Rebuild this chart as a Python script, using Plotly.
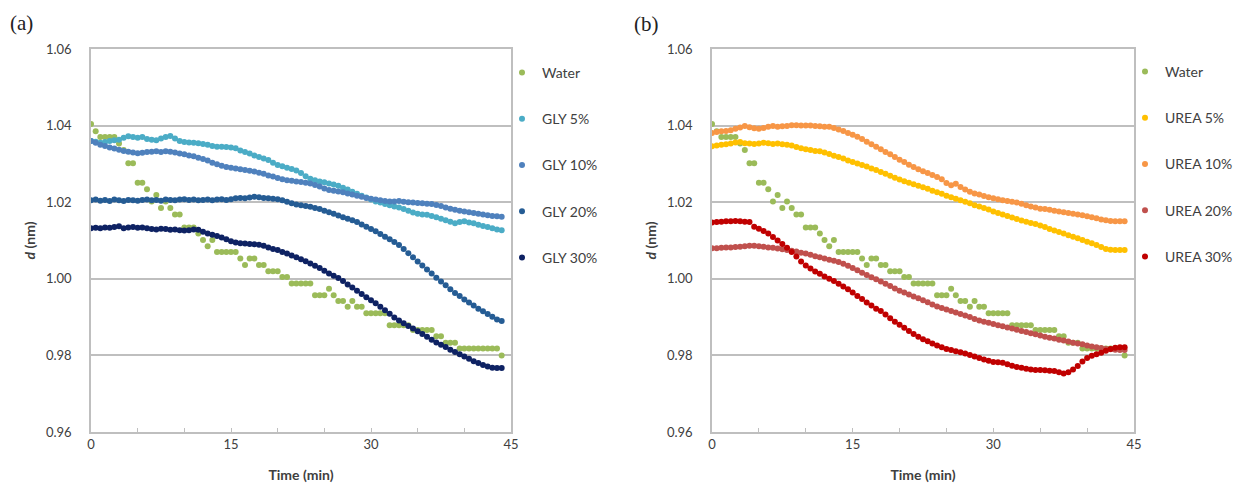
import plotly.graph_objects as go

# ---------------- data ----------------
TIME = [round(0.5 * i, 1) for i in range(89)]  # sampling times 0 .. 44 min

WATER = [1.0404, 1.0385, 1.0370, 1.0370, 1.0370, 1.0370, 1.0353, 1.0336, 1.0302, 1.0302,
         1.0251, 1.0251, 1.0234, 1.0202, 1.0219, 1.0185, 1.0202, 1.0185, 1.0168, 1.0168,
         1.0134, 1.0134, 1.0134, 1.0118, 1.0101, 1.0085, 1.0101, 1.0070, 1.0070, 1.0070,
         1.0070, 1.0070, 1.0053, 1.0036, 1.0053, 1.0053, 1.0036, 1.0036, 1.0020, 1.0020,
         1.0020, 1.0005, 1.0005, 0.9988, 0.9988, 0.9988, 0.9988, 0.9988, 0.9957, 0.9957,
         0.9957, 0.9974, 0.9957, 0.9942, 0.9942, 0.9927, 0.9942, 0.9927, 0.9927, 0.9910,
         0.9910, 0.9910, 0.9910, 0.9910, 0.9879, 0.9879, 0.9879, 0.9879, 0.9879, 0.9866,
         0.9866, 0.9866, 0.9866, 0.9866, 0.9850, 0.9850, 0.9833, 0.9833, 0.9833, 0.9818,
         0.9818, 0.9818, 0.9818, 0.9818, 0.9818, 0.9818, 0.9818, 0.9818, 0.9800]

GLY5 = [1.0360, 1.0358, 1.0355, 1.0357, 1.0360, 1.0362, 1.0363, 1.0368, 1.0372, 1.0370,
        1.0368, 1.0370, 1.0365, 1.0363, 1.0362, 1.0366, 1.0370, 1.0373, 1.0366, 1.0360,
        1.0357, 1.0356, 1.0355, 1.0354, 1.0352, 1.0350, 1.0347, 1.0345, 1.0345, 1.0344,
        1.0343, 1.0341, 1.0335, 1.0331, 1.0327, 1.0322, 1.0318, 1.0314, 1.0310, 1.0303,
        1.0297, 1.0294, 1.0290, 1.0287, 1.0283, 1.0276, 1.0268, 1.0261, 1.0257, 1.0254,
        1.0252, 1.0249, 1.0246, 1.0243, 1.0238, 1.0233, 1.0227, 1.0222, 1.0217, 1.0212,
        1.0207, 1.0202, 1.0199, 1.0195, 1.0192, 1.0189, 1.0186, 1.0182, 1.0178, 1.0173,
        1.0170, 1.0168, 1.0167, 1.0164, 1.0161, 1.0157, 1.0153, 1.0149, 1.0145, 1.0148,
        1.0150, 1.0147, 1.0145, 1.0141, 1.0138, 1.0135, 1.0132, 1.0129, 1.0127]

GLY10 = [1.0360, 1.0355, 1.0350, 1.0347, 1.0343, 1.0340, 1.0337, 1.0334, 1.0332, 1.0330,
         1.0328, 1.0329, 1.0331, 1.0332, 1.0333, 1.0331, 1.0333, 1.0332, 1.0330, 1.0327,
         1.0325, 1.0322, 1.0320, 1.0316, 1.0313, 1.0309, 1.0303, 1.0299, 1.0295, 1.0292,
         1.0290, 1.0288, 1.0286, 1.0284, 1.0282, 1.0280, 1.0277, 1.0274, 1.0270, 1.0267,
         1.0263, 1.0260, 1.0257, 1.0256, 1.0254, 1.0253, 1.0251, 1.0249, 1.0245, 1.0241,
         1.0236, 1.0232, 1.0230, 1.0228, 1.0226, 1.0223, 1.0220, 1.0217, 1.0214, 1.0211,
         1.0209, 1.0207, 1.0205, 1.0203, 1.0202, 1.0202, 1.0203, 1.0201, 1.0200, 1.0199,
         1.0198, 1.0197, 1.0196, 1.0195, 1.0193, 1.0190, 1.0186, 1.0183, 1.0180, 1.0178,
         1.0176, 1.0174, 1.0172, 1.0170, 1.0168, 1.0166, 1.0164, 1.0163, 1.0162]

GLY20 = [1.0205, 1.0207, 1.0204, 1.0206, 1.0203, 1.0207, 1.0205, 1.0203, 1.0206, 1.0205,
         1.0204, 1.0206, 1.0207, 1.0205, 1.0206, 1.0204, 1.0207, 1.0206, 1.0205, 1.0207,
         1.0208, 1.0206, 1.0207, 1.0205, 1.0206, 1.0207, 1.0205, 1.0207, 1.0208, 1.0206,
         1.0208, 1.0210, 1.0211, 1.0210, 1.0212, 1.0214, 1.0213, 1.0211, 1.0210, 1.0209,
         1.0208, 1.0205, 1.0201, 1.0197, 1.0194, 1.0192, 1.0190, 1.0188, 1.0185, 1.0182,
         1.0178, 1.0174, 1.0170, 1.0165, 1.0161, 1.0157, 1.0153, 1.0148, 1.0142, 1.0136,
         1.0130, 1.0124, 1.0117, 1.0110, 1.0103, 1.0096, 1.0088, 1.0078, 1.0067, 1.0056,
         1.0045, 1.0035, 1.0024, 1.0014, 1.0003, 0.9993, 0.9983, 0.9973, 0.9963, 0.9955,
         0.9946, 0.9938, 0.9930, 0.9922, 0.9915, 0.9908, 0.9901, 0.9894, 0.9890]

GLY30 = [1.0132, 1.0133, 1.0132, 1.0134, 1.0133, 1.0135, 1.0137, 1.0132, 1.0134, 1.0135,
         1.0133, 1.0134, 1.0132, 1.0130, 1.0129, 1.0131, 1.0130, 1.0128, 1.0129, 1.0127,
         1.0126, 1.0127, 1.0129, 1.0128, 1.0123, 1.0118, 1.0115, 1.0112, 1.0108, 1.0103,
         1.0098, 1.0095, 1.0093, 1.0092, 1.0091, 1.0090, 1.0089, 1.0086, 1.0082, 1.0078,
         1.0075, 1.0070, 1.0066, 1.0061, 1.0056, 1.0051, 1.0046, 1.0040, 1.0034, 1.0028,
         1.0021, 1.0014, 1.0008, 1.0002, 0.9994, 0.9985, 0.9977, 0.9969, 0.9960, 0.9952,
         0.9944, 0.9936, 0.9927, 0.9918, 0.9909, 0.9899, 0.9891, 0.9884, 0.9877, 0.9870,
         0.9863, 0.9856, 0.9849, 0.9841, 0.9834, 0.9828, 0.9822, 0.9815, 0.9809, 0.9803,
         0.9797, 0.9791, 0.9785, 0.9780, 0.9775, 0.9771, 0.9768, 0.9767, 0.9767]

UREA5 = [1.0346, 1.0348, 1.0350, 1.0351, 1.0353, 1.0356, 1.0357, 1.0354, 1.0353, 1.0352,
         1.0353, 1.0355, 1.0354, 1.0352, 1.0353, 1.0351, 1.0350, 1.0348, 1.0344, 1.0341,
         1.0338, 1.0336, 1.0334, 1.0333, 1.0330, 1.0326, 1.0321, 1.0318, 1.0314, 1.0309,
         1.0305, 1.0301, 1.0297, 1.0293, 1.0288, 1.0284, 1.0279, 1.0274, 1.0269, 1.0264,
         1.0259, 1.0255, 1.0251, 1.0247, 1.0243, 1.0239, 1.0235, 1.0230, 1.0226, 1.0222,
         1.0217, 1.0213, 1.0209, 1.0205, 1.0201, 1.0197, 1.0192, 1.0189, 1.0185, 1.0181,
         1.0176, 1.0172, 1.0168, 1.0164, 1.0160, 1.0156, 1.0152, 1.0149, 1.0146, 1.0143,
         1.0139, 1.0135, 1.0130, 1.0126, 1.0122, 1.0118, 1.0114, 1.0110, 1.0106, 1.0101,
         1.0097, 1.0093, 1.0088, 1.0083, 1.0078, 1.0076, 1.0075, 1.0075, 1.0075]

UREA10 = [1.0381, 1.0383, 1.0385, 1.0386, 1.0388, 1.0392, 1.0395, 1.0399, 1.0396, 1.0393,
          1.0392, 1.0394, 1.0397, 1.0399, 1.0397, 1.0398, 1.0399, 1.0401, 1.0401, 1.0400,
          1.0400, 1.0400, 1.0399, 1.0398, 1.0397, 1.0397, 1.0394, 1.0390, 1.0386, 1.0381,
          1.0376, 1.0371, 1.0365, 1.0358, 1.0351, 1.0345, 1.0338, 1.0331, 1.0325, 1.0318,
          1.0311, 1.0305, 1.0298, 1.0292, 1.0286, 1.0281, 1.0276, 1.0271, 1.0266, 1.0260,
          1.0250, 1.0244, 1.0248, 1.0240, 1.0233, 1.0227, 1.0223, 1.0220, 1.0216, 1.0213,
          1.0210, 1.0208, 1.0205, 1.0203, 1.0201, 1.0199, 1.0196, 1.0192, 1.0189, 1.0186,
          1.0183, 1.0182, 1.0180, 1.0178, 1.0176, 1.0174, 1.0172, 1.0170, 1.0168, 1.0166,
          1.0163, 1.0161, 1.0158, 1.0155, 1.0153, 1.0151, 1.0150, 1.0150, 1.0150]

UREA20 = [1.0080, 1.0080, 1.0081, 1.0082, 1.0082, 1.0083, 1.0084, 1.0085, 1.0086, 1.0086,
          1.0085, 1.0084, 1.0082, 1.0081, 1.0079, 1.0077, 1.0075, 1.0073, 1.0071, 1.0068,
          1.0066, 1.0063, 1.0059, 1.0056, 1.0053, 1.0050, 1.0047, 1.0044, 1.0039, 1.0034,
          1.0028, 1.0022, 1.0016, 1.0010, 1.0004, 0.9999, 0.9993, 0.9987, 0.9981, 0.9975,
          0.9969, 0.9964, 0.9959, 0.9954, 0.9949, 0.9944, 0.9939, 0.9933, 0.9928, 0.9924,
          0.9920, 0.9916, 0.9912, 0.9908, 0.9904, 0.9900, 0.9895, 0.9891, 0.9888, 0.9885,
          0.9882, 0.9879, 0.9876, 0.9873, 0.9870, 0.9867, 0.9864, 0.9861, 0.9858, 0.9855,
          0.9852, 0.9849, 0.9846, 0.9844, 0.9841, 0.9839, 0.9836, 0.9833, 0.9831, 0.9829,
          0.9826, 0.9823, 0.9821, 0.9819, 0.9817, 0.9816, 0.9815, 0.9814, 0.9814]

UREA30 = [1.0147, 1.0148, 1.0149, 1.0150, 1.0150, 1.0151, 1.0150, 1.0149, 1.0148, 1.0136,
          1.0131, 1.0125, 1.0118, 1.0109, 1.0100, 1.0091, 1.0081, 1.0070, 1.0058, 1.0045,
          1.0035, 1.0027, 1.0019, 1.0013, 1.0006, 1.0000, 0.9994, 0.9987, 0.9980, 0.9973,
          0.9964, 0.9955, 0.9947, 0.9938, 0.9930, 0.9922, 0.9916, 0.9907, 0.9897, 0.9888,
          0.9880, 0.9872, 0.9864, 0.9856, 0.9849, 0.9842, 0.9837, 0.9831, 0.9826, 0.9821,
          0.9817, 0.9814, 0.9811, 0.9808, 0.9805, 0.9801, 0.9797, 0.9793, 0.9789, 0.9786,
          0.9783, 0.9782, 0.9781, 0.9777, 0.9773, 0.9770, 0.9768, 0.9765, 0.9763, 0.9762,
          0.9762, 0.9761, 0.9760, 0.9759, 0.9756, 0.9753, 0.9756, 0.9763, 0.9772, 0.9784,
          0.9793, 0.9799, 0.9803, 0.9807, 0.9812, 0.9817, 0.9820, 0.9821, 0.9821]

PANEL_A = [("Water", WATER, "#9BBB59"), ("GLY 5%", GLY5, "#4BACC6"),
           ("GLY 10%", GLY10, "#4F81BD"), ("GLY 20%", GLY20, "#255C94"),
           ("GLY 30%", GLY30, "#0E2263")]
PANEL_B = [("Water", WATER, "#9BBB59"), ("UREA 5%", UREA5, "#FFC000"),
           ("UREA 10%", UREA10, "#F79646"), ("UREA 20%", UREA20, "#C0504D"),
           ("UREA 30%", UREA30, "#C00000")]

X_TICKS = [0, 5, 10, 15, 20, 25, 30, 35, 40, 45]
X_TICK_TEXT = ["0", "", "", "15", "", "", "30", "", "", "45"]
Y_TICKS = [0.96, 0.98, 1.00, 1.02, 1.04, 1.06]

# ---------------- figure ----------------
W, H = 1240, 483
FONT = "Lato, 'Open Sans', sans-serif"
TXT = "#404040"
GRID = "#BFBFBF"
MS = 6

fig = go.Figure()

for name, vals, col in PANEL_A:
    fig.add_trace(go.Scatter(x=TIME, y=vals, mode="markers", name=name,
                             marker=dict(color=col, size=MS, line=dict(width=0)),
                             xaxis="x", yaxis="y", legend="legend",
                             legendgroup="a" + name))
for name, vals, col in PANEL_B:
    fig.add_trace(go.Scatter(x=TIME, y=vals, mode="markers", name=name,
                             marker=dict(color=col, size=MS, line=dict(width=0)),
                             xaxis="x2", yaxis="y2", legend="legend2",
                             legendgroup="b" + name))


def px_x(p):
    return p / W


def px_y(p):
    return 1 - p / H


xdom_a = [px_x(91), px_x(511)]
xdom_b = [px_x(712), px_x(1134)]
ydom = [px_y(432), px_y(49)]

xcommon = dict(range=[0, 45], tickvals=X_TICKS, ticktext=X_TICK_TEXT,
               ticks="inside", ticklen=4, tickcolor=GRID, tickwidth=1,
               showline=True, linecolor=GRID, linewidth=1.5, mirror=True,
               showgrid=False, zeroline=False, automargin=False,
               tickfont=dict(family=FONT, size=13, color=TXT),
               title=dict(text="<b>Time (min)</b>", standoff=22,
                          font=dict(family=FONT, size=14, color=TXT)))
ycommon = dict(range=[0.96, 1.06], tickvals=Y_TICKS, tickformat=".2f",
               ticks="", showline=True, linecolor=GRID, linewidth=1.5,
               mirror=True, showgrid=True, gridcolor=GRID, gridwidth=1.5,
               zeroline=False, ticklabelstandoff=15, automargin=False,
               tickfont=dict(family=FONT, size=13, color=TXT),
               title=dict(text="<b><i>d</i> (nm)</b>", standoff=7,
                          font=dict(family=FONT, size=14, color=TXT)))

legcommon = dict(font=dict(family=FONT, size=14, color=TXT),
                 bgcolor="rgba(0,0,0,0)", tracegroupgap=25,
                 itemsizing="trace", xanchor="left", yanchor="top",
                 traceorder="grouped")

fig.update_layout(
    template="none",
    width=W, height=H, autosize=False,
    margin=dict(l=0, r=0, t=0, b=0, pad=0, autoexpand=False),
    paper_bgcolor="white", plot_bgcolor="white",
    xaxis=dict(domain=xdom_a, anchor="y", **xcommon),
    yaxis=dict(domain=ydom, anchor="x", **ycommon),
    xaxis2=dict(domain=xdom_b, anchor="y2", **xcommon),
    yaxis2=dict(domain=ydom, anchor="x2", **ycommon),
    legend=dict(x=px_x(502), y=px_y(57), **legcommon),
    legend2=dict(x=px_x(1125), y=px_y(56), **legcommon),
    showlegend=True,
    annotations=[
        dict(text="(a)", xref="paper", yref="paper", x=px_x(8), y=px_y(23),
             xanchor="left", yanchor="middle", showarrow=False,
             font=dict(family="'Liberation Serif', 'DejaVu Serif', serif",
                       size=21, color="#222222")),
        dict(text="(b)", xref="paper", yref="paper", x=px_x(632), y=px_y(24),
             xanchor="left", yanchor="middle", showarrow=False,
             font=dict(family="'Liberation Serif', 'DejaVu Serif', serif",
                       size=21, color="#222222")),
    ],
)

fig.write_html(
    "out.html",
    config={"displayModeBar": False},
    post_script="document.body.style.margin='0';document.body.style.overflow='hidden';",
)
